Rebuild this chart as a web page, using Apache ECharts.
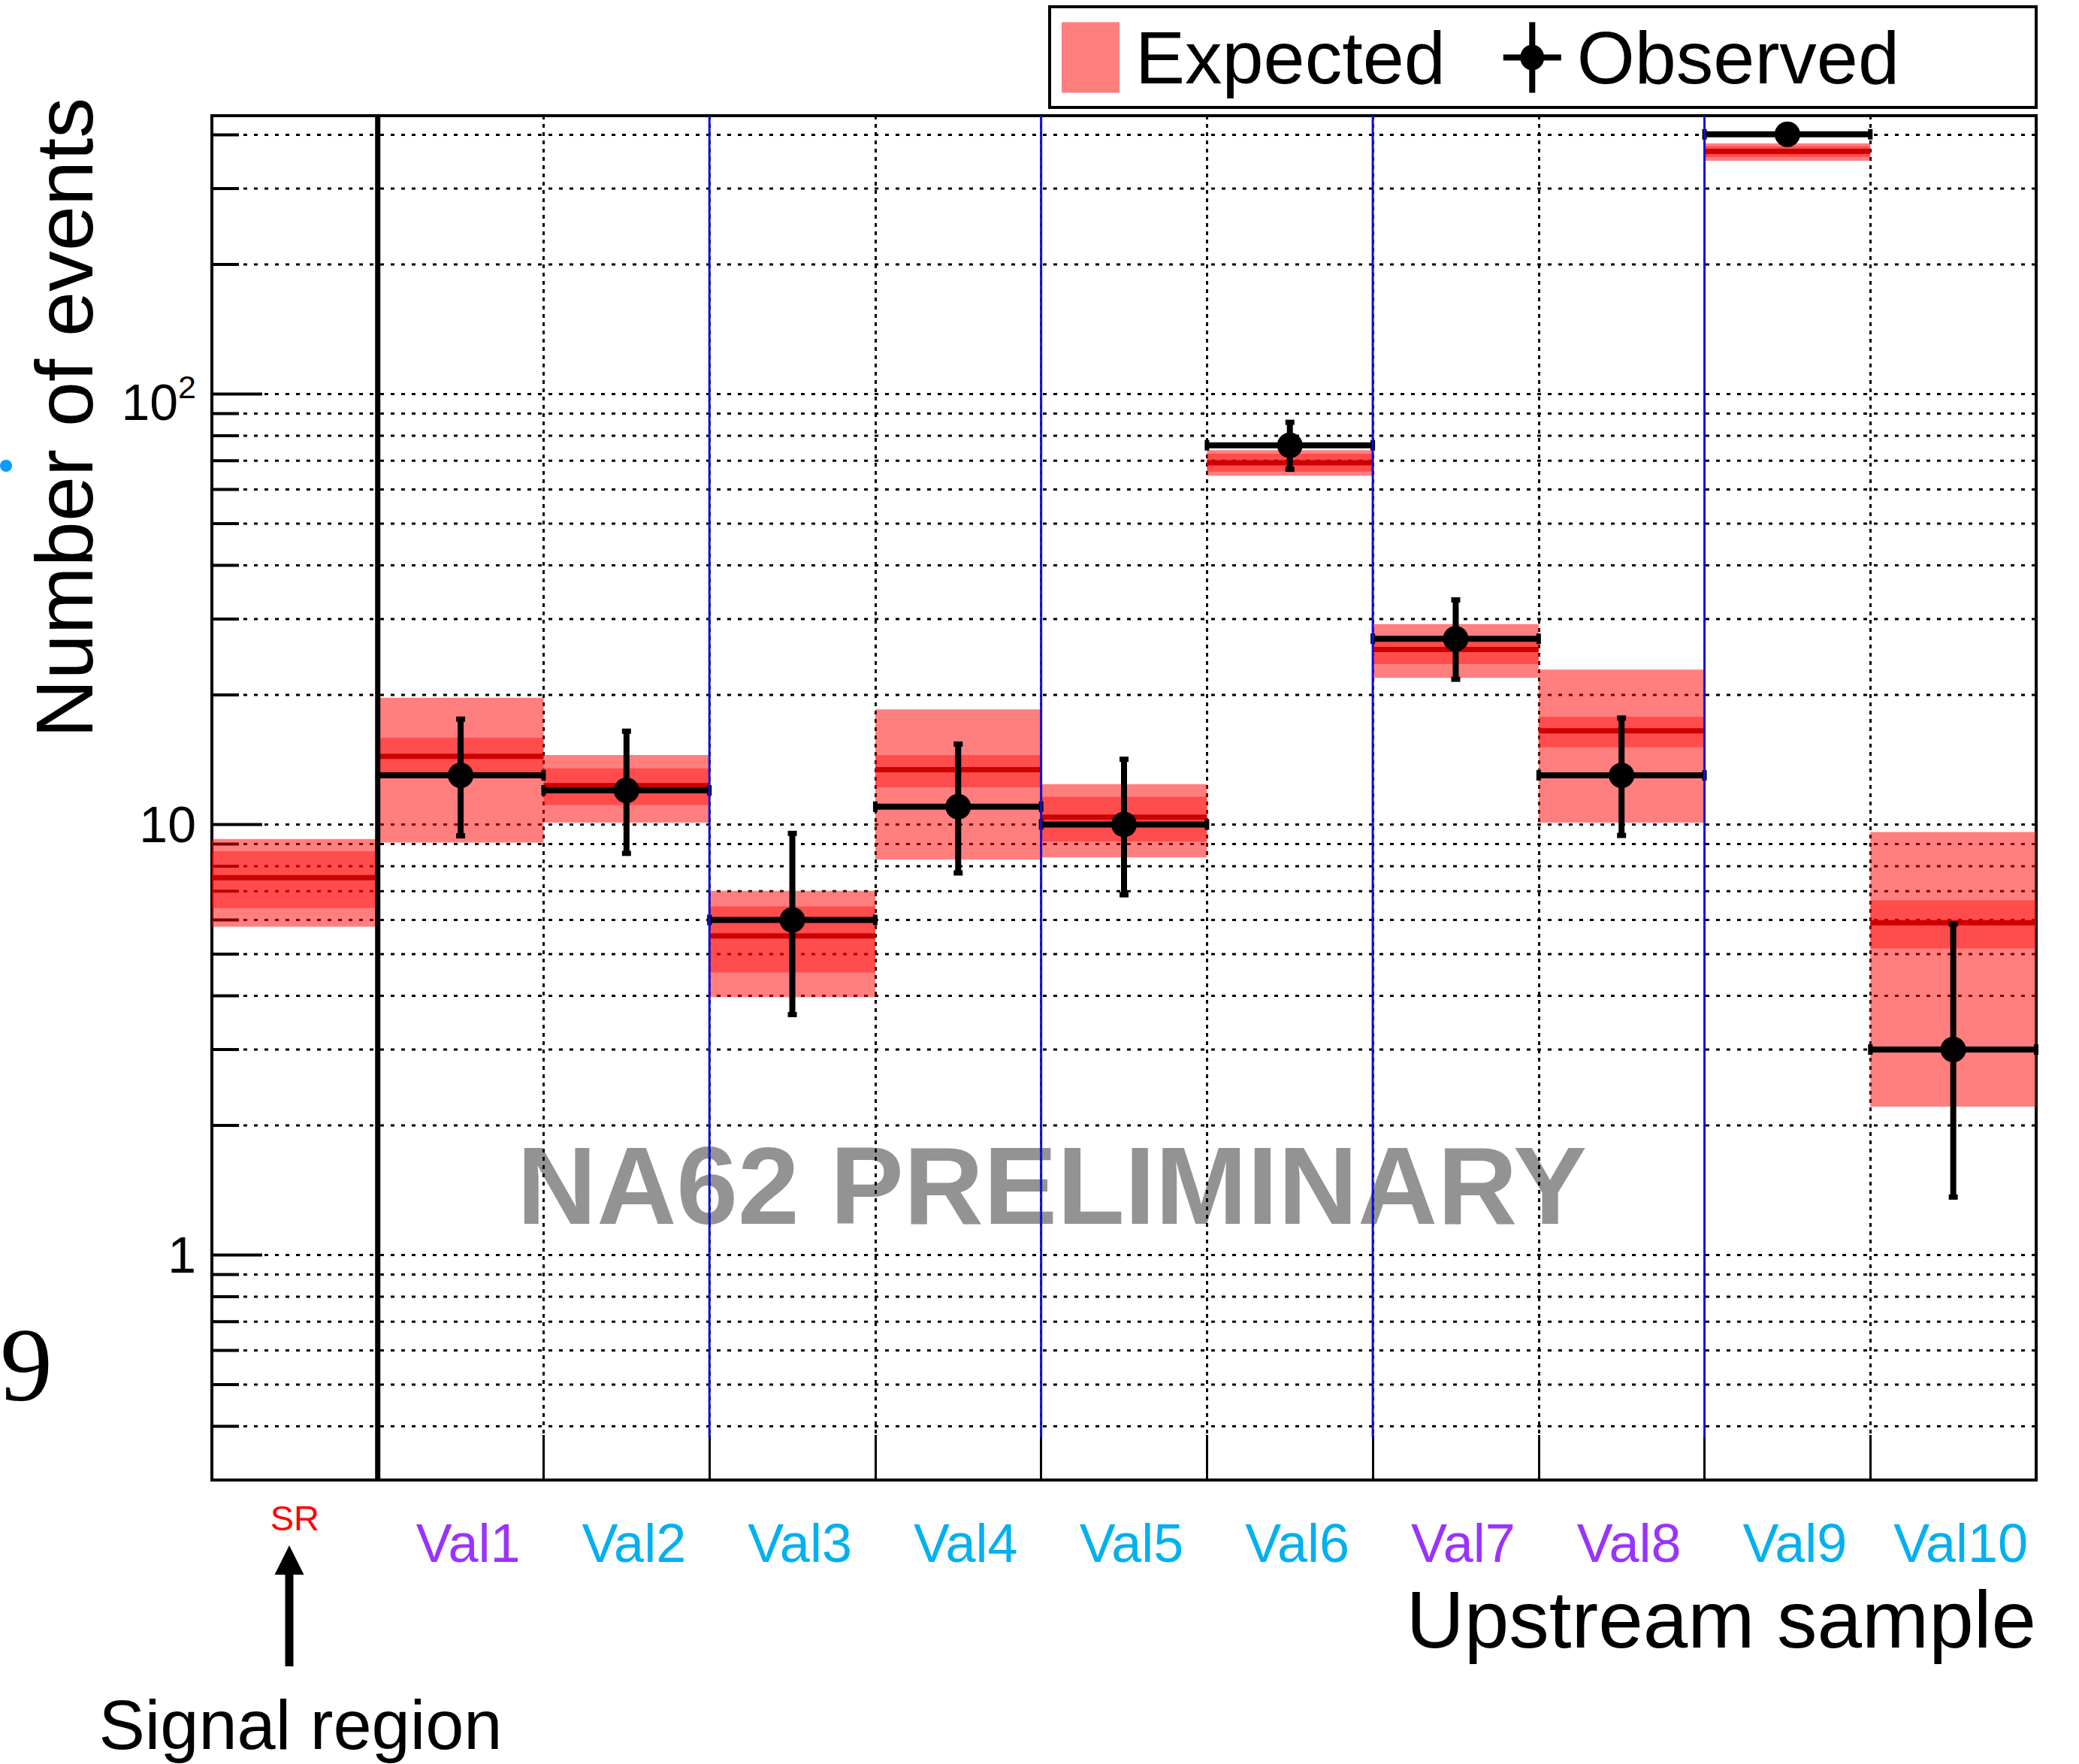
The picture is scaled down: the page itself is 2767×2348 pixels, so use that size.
<!DOCTYPE html>
<html>
<head>
<meta charset="utf-8">
<script src="https://cdn.jsdelivr.net/npm/echarts@6/dist/echarts.min.js"></script>
<style>
  html, body { margin: 0; padding: 0; background: #ffffff; }
  #chart { width: 2767px; height: 2348px; }
</style>
</head>
<body>
<div id="chart"></div>
<script>
// Samples: signal region followed by the ten upstream validation samples
const categories = ['SR', 'Val1', 'Val2', 'Val3', 'Val4', 'Val5', 'Val6', 'Val7', 'Val8', 'Val9', 'Val10'];

// Expected number of events: central value, inner band and outer band
const expCentral   = [7.52, 14.4, 12.3, 5.51, 13.4, 10.4, 69.2, 25.5, 16.5, 366, 5.91];
const expInnerLow  = [6.39, 13.0, 11.1, 4.53, 12.2, 9.13, 66.0, 23.6, 15.1, 355, 5.15];
const expInnerHigh = [8.67, 15.9, 13.5, 6.45, 14.5, 11.6, 72.6, 27.3, 17.8, 376, 6.66];
const expOuterLow  = [5.79, 9.08, 10.1, 3.97, 8.28, 8.38, 64.6, 21.9, 10.1, 348, 2.21];
const expOuterHigh = [9.25, 19.7, 14.5, 7.01, 18.5, 12.4, 74.0, 29.2, 22.9, 382, 9.60];

// Observed events with their error interval (signal region kept blind)
const observed = [null, 13, 12, 6, 11, 10, 76, 27, 13, 401, 3];
const obsLow   = [null, 9.39, 8.55, 3.61, 7.70, 6.85, 66.7, 21.7, 9.41, 381, 1.36];
const obsHigh  = [null, 17.6, 16.5, 9.55, 15.4, 14.2, 86.1, 33.3, 17.7, 421, 5.88];

// Log axis decorations
const yTickValues = [1, 10, 100];
const yTickLabels = ['1', '10', '{base|10}{sup|2}'];
const yGridValues = [0.4, 0.5, 0.6, 0.7, 0.8, 0.9,
                     1, 2, 3, 4, 5, 6, 7, 8, 9,
                     10, 20, 30, 40, 50, 60, 70, 80, 90,
                     100, 200, 300, 400];

// Sample groups are separated after these samples
const sectionEnds = ['Val2', 'Val4', 'Val6', 'Val8'];

const yMin = 0.3, yMax = 443;
const dividerFloor = 0.377;
const FONT = '"Liberation Sans", Arial, Helvetica, sans-serif';

const labelTone = { SR: 'sr', Val1: 'violet', Val7: 'violet', Val8: 'violet' };

function binWidth(params) {
  return params.coordSys.width / categories.length;
}

function renderGridLine(params, api) {
  const cs = params.coordSys;
  const v = api.value(1);
  const y = api.coord([0, v])[1];
  const major = yTickValues.indexOf(v) >= 0;
  return {
    type: 'group',
    children: [
      { type: 'line', shape: { x1: cs.x, y1: y, x2: cs.x + cs.width, y2: y },
        style: { stroke: '#000', lineWidth: 3, lineDash: [5, 9] } },
      { type: 'line', shape: { x1: cs.x, y1: y, x2: cs.x + (major ? 67 : 36), y2: y },
        style: { stroke: '#000', lineWidth: 4 } }
    ]
  };
}

function renderBand(params, api) {
  const i = api.value(0);
  const w = binWidth(params);
  const cx = api.coord([i, 1])[0];
  const x0 = cx - w / 2;
  const yOf = v => api.coord([i, v])[1];
  const band = (lo, hi, fill) => ({
    type: 'rect',
    shape: { x: x0, y: yOf(hi), width: w, height: yOf(lo) - yOf(hi) },
    style: { fill: fill }
  });
  const yc = yOf(api.value(5));
  return {
    type: 'group',
    children: [
      band(api.value(1), api.value(2), 'rgba(255,0,0,0.5)'),
      band(api.value(3), api.value(4), 'rgba(255,0,0,0.4)'),
      { type: 'rect', shape: { x: x0, y: yc - 3.5, width: w, height: 7 }, style: { fill: '#cc0000' } }
    ]
  };
}

function renderObserved(params, api) {
  const i = api.value(0);
  const w = binWidth(params);
  const pt = api.coord([i, api.value(1)]);
  const cx = pt[0], cy = pt[1];
  const yLo = api.coord([i, api.value(2)])[1];
  const yHi = api.coord([i, api.value(3)])[1];
  const black = { fill: '#000' };
  return {
    type: 'group',
    children: [
      { type: 'rect', shape: { x: cx - w / 2, y: cy - 4, width: w, height: 8 }, style: black },
      { type: 'rect', shape: { x: cx - w / 2 - 3, y: cy - 7, width: 6, height: 14 }, style: black },
      { type: 'rect', shape: { x: cx + w / 2 - 3, y: cy - 7, width: 6, height: 14 }, style: black },
      { type: 'rect', shape: { x: cx - 4, y: yHi, width: 8, height: yLo - yHi }, style: black },
      { type: 'rect', shape: { x: cx - 6, y: yHi - 3, width: 12, height: 7 }, style: black },
      { type: 'rect', shape: { x: cx - 6, y: yLo - 4, width: 12, height: 7 }, style: black },
      { type: 'circle', shape: { cx: cx, cy: cy, r: 17 }, style: black }
    ]
  };
}

function renderDivider(params, api) {
  const i = api.value(0);
  const w = binWidth(params);
  const x = api.coord([i, 1])[0] + w / 2;
  const y1 = api.coord([i, api.value(1)])[1];
  const y2 = api.coord([i, api.value(2)])[1];
  const solid = api.value(3) === 1;
  return {
    type: 'line',
    shape: { x1: x, y1: y1, x2: x, y2: y2 },
    style: { stroke: solid ? '#000' : '#1010d8', lineWidth: solid ? 7 : 3 }
  };
}

function renderYLabel(params, api) {
  const y = api.coord([0, api.value(1)])[1];
  return {
    type: 'text',
    x: params.coordSys.x - 21,
    y: y,
    style: {
      text: yTickLabels[params.dataIndex],
      font: '68px ' + FONT,
      fill: '#000',
      align: 'right', textAlign: 'right',
      verticalAlign: 'middle', textVerticalAlign: 'middle',
      rich: {
        base: { fontSize: 68, fontFamily: FONT, padding: [22, 0, 0, 0] },
        sup: { fontSize: 43, fontFamily: FONT, verticalAlign: 'top', padding: [14, 0, 0, 0] }
      }
    }
  };
}

const dividerData = sectionEnds.map(name => [categories.indexOf(name), dividerFloor, yMax, 0])
  .concat([[categories.indexOf('SR'), yMin, yMax, 1]]);

const option = {
  backgroundColor: '#ffffff',
  animation: false,
  textStyle: { fontFamily: FONT },
  grid: {
    left: 282, top: 154, width: 2428, height: 1816,
    show: true, borderColor: '#000', borderWidth: 4, backgroundColor: 'transparent'
  },
  xAxis: {
    type: 'category',
    data: categories,
    boundaryGap: true,
    axisLine: { show: false },
    axisTick: { show: true, inside: true, length: 60, interval: 0, lineStyle: { color: '#000', width: 3 } },
    splitLine: { show: true, interval: 0, lineStyle: { color: '#000', width: 3, type: [5, 6] } },
    axisLabel: {
      interval: 0,
      margin: 27,
      verticalAlign: 'top',
      formatter: v => '{' + (labelTone[v] || 'azure') + '|' + v + '}',
      rich: {
        sr: { fontSize: 47, color: '#ff0000', fontFamily: FONT },
        violet: { fontSize: 72, color: '#9933ff', fontFamily: FONT, padding: [21, 0, 0, 20] },
        azure: { fontSize: 72, color: '#00b0f0', fontFamily: FONT, padding: [21, 0, 0, 20] }
      }
    }
  },
  yAxis: {
    type: 'log',
    logBase: 10,
    min: yMin,
    max: yMax,
    axisLine: { show: false },
    axisTick: { show: false },
    axisLabel: { show: false },
    splitLine: { show: false },
    name: 'Number of events',
    nameLocation: 'middle',
    nameRotate: 90,
    nameGap: 143,
    nameTextStyle: { fontSize: 108, color: '#000', fontFamily: FONT, padding: [0, 0, 0, 1012] }
  },
  legend: {
    show: true,
    left: 1397, top: 9,
    orient: 'horizontal',
    padding: [18, 182, 17, 16],
    itemGap: 77,
    itemWidth: 77,
    itemHeight: 94,
    borderColor: '#000',
    borderWidth: 4,
    backgroundColor: '#fff',
    selectedMode: false,
    textStyle: { fontSize: 99, color: '#000', fontFamily: FONT, padding: [0, 0, 0, 16] },
    data: [
      { name: 'Expected', icon: 'rect', itemStyle: { color: '#ff7f7f' } },
      { name: 'Observed',
        icon: 'path://M0,43H77V51H0Z M34.5,0H42.5V94H34.5Z M22.5,47A16,17 0 1,1 54.5,47A16,17 0 1,1 22.5,47Z',
        itemStyle: { color: '#000' } }
    ]
  },
  graphic: {
    elements: [
      { type: 'text', z: -10, x: 1400, y: 1578,
        style: { text: 'NA62 PRELIMINARY', font: 'bold 147px ' + FONT, fill: '#939393',
                 align: 'center', textAlign: 'center', verticalAlign: 'middle', textVerticalAlign: 'middle' } },
      { type: 'text', x: 2710, y: 2156,
        style: { text: 'Upstream sample', font: '107px ' + FONT, fill: '#000',
                 align: 'right', textAlign: 'right', verticalAlign: 'middle', textVerticalAlign: 'middle' } },
      { type: 'text', x: 400, y: 2296,
        style: { text: 'Signal region', font: '92px ' + FONT, fill: '#000',
                 align: 'center', textAlign: 'center', verticalAlign: 'middle', textVerticalAlign: 'middle' } },
      { type: 'polygon', shape: { points: [[365.5, 2096], [404.5, 2096], [385, 2057]] }, style: { fill: '#000' } },
      { type: 'rect', shape: { x: 379.5, y: 2094, width: 11, height: 124 }, style: { fill: '#000' } },
      { type: 'circle', shape: { cx: 8, cy: 620, r: 8 }, style: { fill: '#0a9bff' } },
      { type: 'text', x: 0, y: 1816,
        style: { text: '9', font: '140px "Liberation Serif", "Times New Roman", serif', fill: '#000',
                 align: 'left', textAlign: 'left', verticalAlign: 'middle', textVerticalAlign: 'middle' } }
    ]
  },
  series: [
    {
      type: 'custom', z: 1, silent: true, clip: false,
      data: yGridValues.map(v => [0, v]),
      encode: { x: 0, y: 1 },
      renderItem: renderGridLine
    },
    {
      type: 'custom', name: 'Expected', z: 2, silent: true,
      itemStyle: { color: '#ff7f7f' },
      data: categories.map((c, i) => [i, expOuterLow[i], expOuterHigh[i], expInnerLow[i], expInnerHigh[i], expCentral[i]]),
      encode: { x: 0, y: [1, 2, 3, 4, 5] },
      renderItem: renderBand
    },
    {
      type: 'custom', name: 'Observed', z: 3, silent: true, clip: false,
      itemStyle: { color: '#000' },
      data: observed.map((v, i) => v == null ? null : [i, v, obsLow[i], obsHigh[i]]).filter(d => d !== null),
      encode: { x: 0, y: [1, 2, 3] },
      renderItem: renderObserved
    },
    {
      type: 'custom', z: 4, silent: true, clip: false,
      data: dividerData,
      encode: { x: 0, y: [1, 2] },
      renderItem: renderDivider
    },
    {
      type: 'custom', z: 5, silent: true, clip: false,
      data: yTickValues.map(v => [0, v]),
      encode: { x: 0, y: 1 },
      renderItem: renderYLabel
    }
  ]
};

const chart = echarts.init(document.getElementById('chart'), null, { renderer: 'svg', width: 2767, height: 2348 });
chart.setOption(option);
</script>
</body>
</html>
